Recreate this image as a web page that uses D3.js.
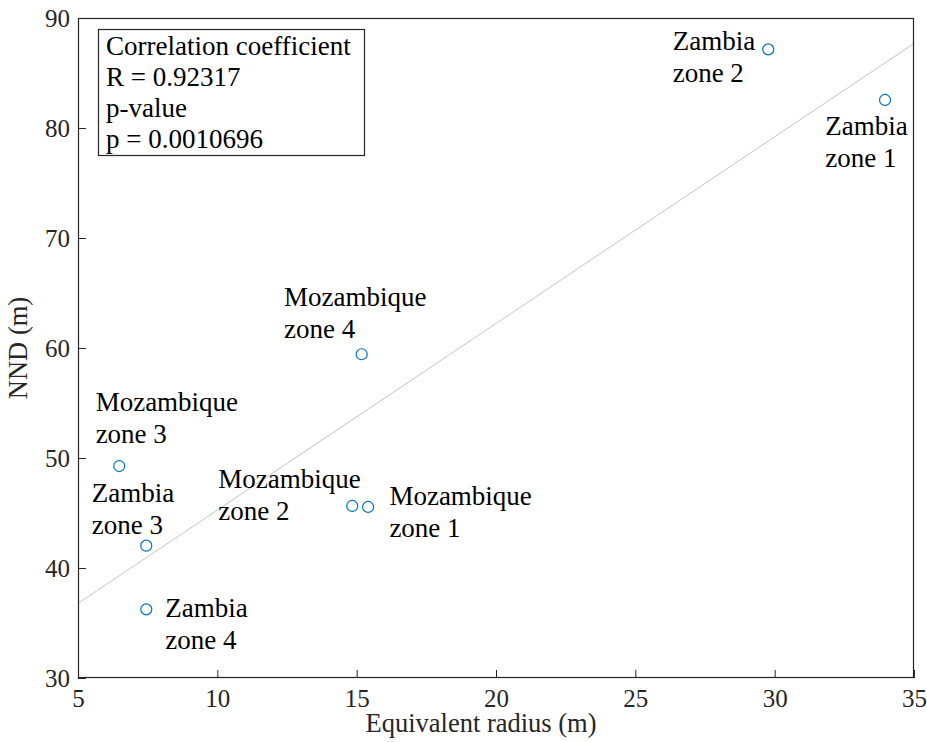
<!DOCTYPE html>
<html>
<head>
<meta charset="utf-8">
<script src="https://cdn.jsdelivr.net/npm/d3@7"></script>
<style>
  html, body { margin: 0; padding: 0; background: #fff; }
  svg { display: block; }
</style>
</head>
<body>
<svg id="chart" width="927" height="742"></svg>
<script>
// Sites: equivalent radius (m) vs nearest-neighbour distance (m)
const siteNames = ["Zambia zone 2", "Zambia zone 1", "Mozambique zone 4", "Mozambique zone 3",
                   "Zambia zone 3", "Mozambique zone 2", "Mozambique zone 1", "Zambia zone 4"];
const radius = [29.77, 33.96, 15.18, 6.48, 7.45, 14.84, 15.41, 7.45];
const nnd    = [87.15, 82.55, 59.43, 49.27, 42.03, 45.64, 45.55, 36.24];
const xTicks = [5, 10, 15, 20, 25, 30, 35];
const yTicks = [30, 40, 50, 60, 70, 80, 90];
const statsLines = ["Correlation coefficient", "R = 0.92317", "p-value", "p = 0.0010696"];

const margin = { left: 78, right: 13, top: 18, bottom: 64 };
const W = 927, H = 742;
const FONT = "Liberation Serif";
const svg = d3.select("#chart");

const x = d3.scaleLinear().domain([5, 35]).range([margin.left, W - margin.right]);
const y = d3.scaleLinear().domain([30, 90]).range([H - margin.bottom, margin.top]);

const axisColor = "#262626";
const tickFont = "25px";
const textFont = "27px";

// least-squares fit line
const mx = d3.mean(radius), my = d3.mean(nnd);
const sxy = d3.sum(radius, (v, i) => (v - mx) * (nnd[i] - my));
const sxx = d3.sum(radius, v => (v - mx) * (v - mx));
const slope = sxy / sxx, intercept = my - slope * mx;
const fit = x.domain().map(v => [v, intercept + slope * v]);

svg.append("line")
  .attr("x1", x(fit[0][0])).attr("y1", y(fit[0][1]))
  .attr("x2", x(fit[1][0])).attr("y2", y(fit[1][1]))
  .attr("stroke", "#c4c4c4").attr("stroke-width", 1);

// axes
const xAxis = d3.axisBottom(x).tickValues(xTicks).tickSizeInner(-8).tickSizeOuter(0).tickPadding(11);
const yAxis = d3.axisLeft(y).tickValues(yTicks).tickSizeInner(-8).tickSizeOuter(0).tickPadding(8);

const gx = svg.append("g").attr("transform", `translate(0,${H - margin.bottom})`).call(xAxis);
const gy = svg.append("g").attr("transform", `translate(${margin.left},0)`).call(yAxis);
[gx, gy].forEach(g => {
  g.select(".domain").remove();
  g.selectAll(".tick line").attr("stroke", axisColor);
  g.selectAll(".tick text").attr("fill", axisColor)
    .style("font-family", FONT).style("font-size", tickFont);
});
gx.selectAll(".tick text").attr("dy", "0.71em");
gy.selectAll(".tick text").attr("dy", "0.32em");

// box
svg.append("rect")
  .attr("x", margin.left + 0.5).attr("y", margin.top + 0.5)
  .attr("width", W - margin.left - margin.right - 1)
  .attr("height", H - margin.top - margin.bottom - 1)
  .attr("fill", "none").attr("stroke", axisColor).attr("stroke-width", 1.2);

// axis titles
svg.append("text")
  .attr("x", (margin.left + W - margin.right) / 2 - 15).attr("y", 732)
  .attr("text-anchor", "middle").attr("fill", axisColor)
  .style("font-family", FONT).style("font-size", "26.5px").text("Equivalent radius (m)");
svg.append("text")
  .attr("transform", `translate(27,${(margin.top + H - margin.bottom) / 2}) rotate(-90)`)
  .attr("text-anchor", "middle").attr("fill", axisColor)
  .style("font-family", FONT).style("font-size", "26.5px").text("NND (m)");

// markers
svg.append("g").selectAll("circle").data(radius).join("circle")
  .attr("cx", d => x(d)).attr("cy", (d, i) => y(nnd[i]))
  .attr("r", 5.5).attr("fill", "none").attr("stroke", "#0072BD").attr("stroke-width", 1.2);

// point labels, offsets in px from marker centre (baseline of first line)
const labelOffset = {
  "Zambia zone 2": [-95.6, 0.7],
  "Zambia zone 1": [-59.7, 35],
  "Mozambique zone 4": [-77.7, -48.3],
  "Mozambique zone 3": [-23.6, -55.3],
  "Zambia zone 3": [-54.6, -44],
  "Mozambique zone 2": [-134, -17.7],
  "Mozambique zone 1": [21.3, -2],
  "Zambia zone 4": [19, 8]
};
const labels = svg.append("g");
siteNames.forEach((name, i) => {
  const [dx, dy] = labelOffset[name];
  const parts = name.split(" zone ");
  const t = labels.append("text")
    .attr("x", x(radius[i]) + dx).attr("y", y(nnd[i]) + dy).attr("fill", "#000")
    .style("font-family", FONT).style("font-size", textFont);
  t.append("tspan").attr("x", x(radius[i]) + dx).text(parts[0]);
  t.append("tspan").attr("x", x(radius[i]) + dx).attr("dy", 32).text("zone " + parts[1]);
});

// statistics box
svg.append("rect")
  .attr("x", 98.5).attr("y", 29.5).attr("width", 266).attr("height", 126)
  .attr("fill", "#fff").attr("stroke", axisColor).attr("stroke-width", 1.2);
svg.append("g").selectAll("text").data(statsLines).join("text")
  .attr("x", 106).attr("y", (d, i) => 55 + i * 31)
  .attr("fill", "#000").style("font-family", FONT).style("font-size", textFont).text(d => d);
</script>
</body>
</html>
